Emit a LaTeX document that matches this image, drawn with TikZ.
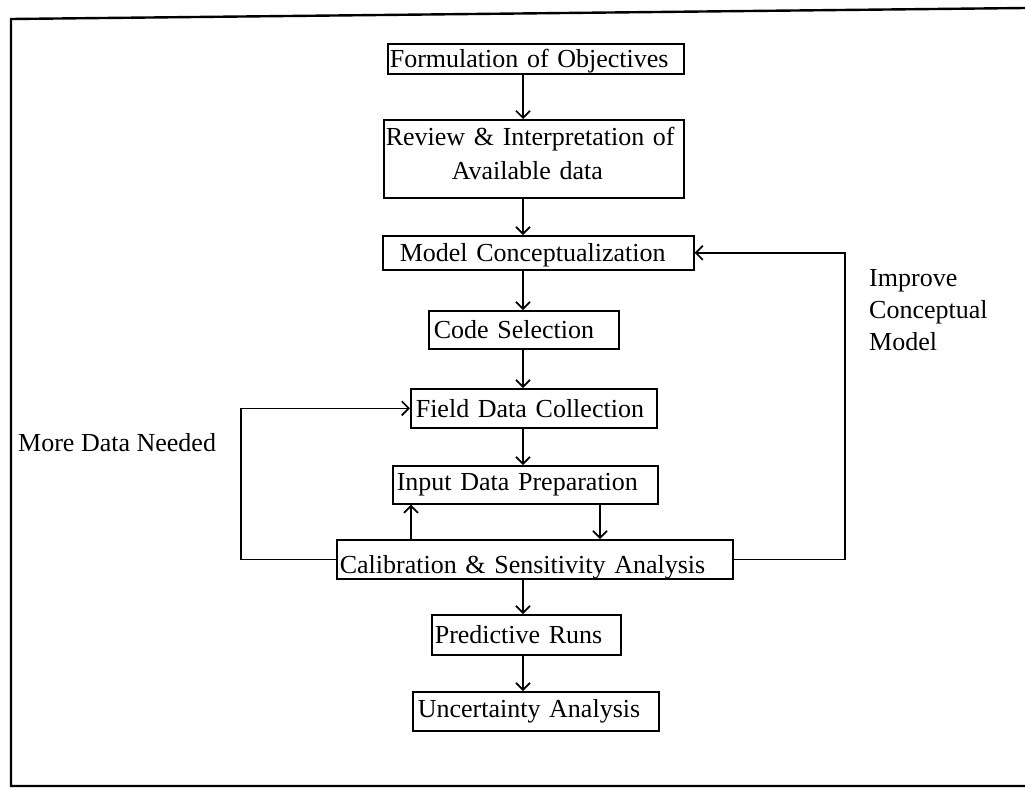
\documentclass[tikz,border=0pt]{standalone}
\usepackage{fontspec}
\setmainfont{Liberation Serif}
\usetikzlibrary{arrows.meta}
\begin{document}
\begin{tikzpicture}[x=1pt,y=-1pt,
  box/.style={draw, line width=1.6pt, inner xsep=2pt, inner ysep=0pt,
    align=left, anchor=north west, font=\fontsize{26}{34}\selectfont},
  lbl/.style={inner sep=0pt, align=left, font=\fontsize{26}{32}\selectfont},
  link/.style={line width=1.5pt},
  arr/.style={link, -{Straight Barb[length=7pt,width=14pt,line width=1.7pt]}},
  frame/.style={line width=2.4pt}]
\useasboundingbox (0,0) rectangle (1025,788);

% outer frame
\draw[frame] (1025,8) -- (11,19) -- (11,786) -- (1025,786);

% process steps
\node[box, text width=292pt, minimum height=30pt, text height=18pt, text depth=0pt] (obj) at (387,43)
  {Formulation of Objectives};
\node[box, text width=296pt, minimum height=78pt, text depth=44pt] (rev) at (383,119)
  {Review \& Interpretation of\\\hspace*{66pt}Available data};
\node[box, text width=307pt, minimum height=34pt, text height=18pt, text depth=0pt] (mod) at (382,235)
  {\hspace*{15pt}Model Conceptualization};
\node[box, text width=186pt, minimum height=38pt] (code) at (428,310)
  {\hspace*{3pt}Code Selection};
\node[box, text width=242pt, minimum height=39pt] (fld) at (410,388)
  {\hspace*{3pt}Field Data Collection};
\node[box, text width=261pt, minimum height=38pt] (inp) at (392,465)
  {\hspace*{2pt}Input Data Preparation};
\node[box, text width=392pt, minimum height=39pt, text height=28pt, text depth=0pt] (cal) at (336,539)
  {\hspace*{1pt}Calibration \& Sensitivity Analysis};
\node[box, text width=185pt, minimum height=40pt] (pred) at (431,614)
  {\hspace*{1pt}Predictive Runs};
\node[box, text width=242pt, minimum height=39pt] (unc) at (412,691)
  {\hspace*{3pt}Uncertainty Analysis};

% side labels
\node[lbl, anchor=base west] (more) at (18,451) {More Data Needed};
\node[lbl, anchor=north west] (impr) at (869,269) {Improve\\Conceptual\\Model};

% vertical guides for the connectors
\coordinate (sp) at (523,0);
\coordinate (dn) at (600,0);
\coordinate (up) at (411,0);
\coordinate (rc) at (845,0);
\coordinate (lc) at (241,0);

% main flow
\draw[arr] (obj.south -| sp) -- (rev.north -| sp);
\draw[arr] (rev.south -| sp) -- (mod.north -| sp);
\draw[arr] (mod.south -| sp) -- (code.north -| sp);
\draw[arr] (code.south -| sp) -- (fld.north -| sp);
\draw[arr] (fld.south -| sp) -- (inp.north -| sp);
\draw[arr] (inp.south -| dn) -- (cal.north -| dn);
\draw[arr] (cal.north -| up) -- (inp.south -| up);
\draw[arr] (cal.south -| sp) -- (pred.north -| sp);
\draw[arr] (pred.south -| sp) -- (unc.north -| sp);

% feedback loops
\draw[arr] (cal.east) -| (rc |- mod.east) -- (mod.east);
\draw[arr] (cal.west) -| (lc |- fld.west) -- (fld.west);
\end{tikzpicture}
\end{document}
